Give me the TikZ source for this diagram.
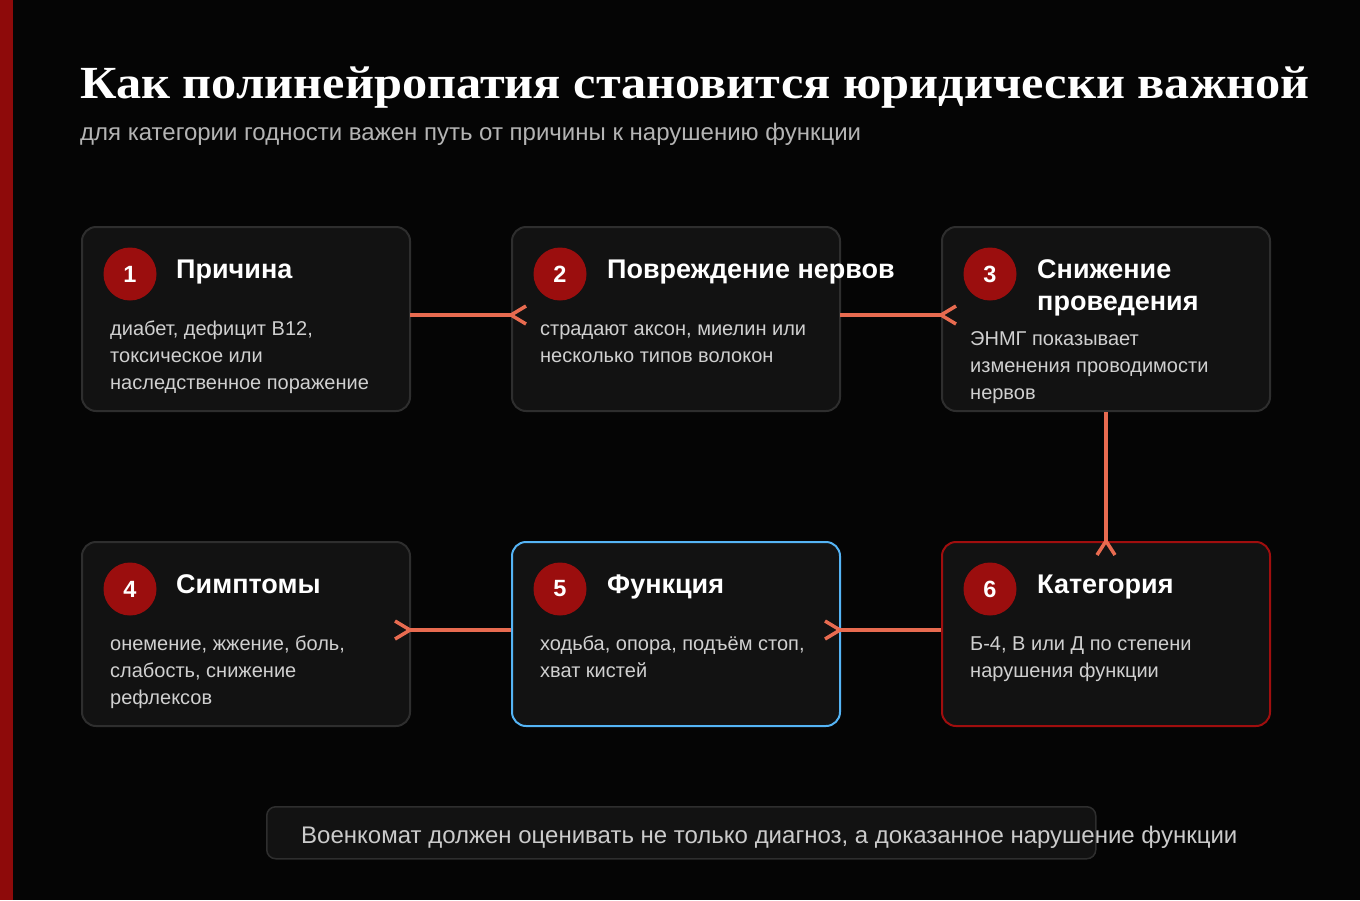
\documentclass[tikz,border=0pt]{standalone}
\usepackage{fontspec}
\setmainfont{Liberation Sans}
\newfontfamily\titlefont{Liberation Serif}
\usetikzlibrary{calc}
\definecolor{bg}{HTML}{050505}
\definecolor{stripe}{HTML}{8E0A0A}
\definecolor{boxfill}{HTML}{121212}
\definecolor{boxline}{HTML}{2E2E2E}
\definecolor{circ}{HTML}{9B0E0E}
\definecolor{conncol}{HTML}{E86B50}
\definecolor{bluel}{HTML}{55B4F5}
\definecolor{redl}{HTML}{A00E0E}
\definecolor{bodytxt}{HTML}{D0D0D0}
\definecolor{subtxt}{HTML}{B4B4B4}
\tikzset{
  box/.style={draw=boxline, line width=2pt, fill=boxfill, rounded corners=14pt,
    minimum width=328pt, minimum height=184pt, anchor=north west, inner sep=0pt},
  num/.style={circle, fill=circ, minimum size=53pt, inner sep=0pt, text=white,
    font=\bfseries\fontsize{23.5}{24}\selectfont},
  head/.style={anchor=base west, text=white, inner sep=0pt, align=left,
    font=\bfseries\fontsize{27}{32}\selectfont},
  body/.style={anchor=base west, text=bodytxt, inner sep=0pt, align=left,
    font=\fontsize{20}{27}\selectfont},
  conn/.style={draw=conncol, line width=4pt},
  tip/.style={draw=conncol, line width=3.5pt},
}
\begin{document}
\begin{tikzpicture}[x=1pt,y=-1pt]
\useasboundingbox (0,0) rectangle (1360,900);
\fill[bg] (0,0) rectangle (1360,900);
\fill[stripe] (0,0) rectangle (13,900);

\node[anchor=base west, inner sep=0pt, text=white, font=\titlefont\bfseries\fontsize{46}{46}\selectfont] (title) at (80,98) {\scalebox{1.095}[1]{Как полинейропатия становится юридически важной}};
\node[anchor=base west, inner sep=0pt, text=subtxt, font=\fontsize{24}{28}\selectfont] (subtitle) at (80,140) {для категории годности важен путь от причины к нарушению функции};

% boxes
\node[box] (b1) at (81,226) {};
\node[box] (b2) at (511,226) {};
\node[box] (b3) at (941,226) {};
\node[box] (b4) at (81,541) {};
\node[box, draw=bluel] (b5) at (511,541) {};
\node[box, draw=redl] (b6) at (941,541) {};

% connectors
\coordinate (r1a) at (410,315);
\coordinate (r1b) at (511,315);
\coordinate (r1c) at (840,315);
\coordinate (r1d) at (941,315);
\coordinate (r2a) at (410,630);
\coordinate (r2b) at (511,630);
\coordinate (r2c) at (840,630);
\coordinate (r2d) at (941,630);
\draw[conn] (r1a) -- (r1b);
\draw[conn] (r1c) -- (r1d);
\draw[conn] (r2a) -- (r2b);
\draw[conn] (r2c) -- (r2d);
\draw[conn] (b3.south) -- (b6.north);
\draw[tip] ($(r1b)+(15,-9)$) -- (r1b) -- ($(r1b)+(15,9)$);
\draw[tip] ($(r1d)+(15,-9)$) -- (r1d) -- ($(r1d)+(15,9)$);
\draw[tip] ($(r2a)+(-15,-9)$) -- (r2a) -- ($(r2a)+(-15,9)$);
\draw[tip] ($(r2c)+(-15,-9)$) -- (r2c) -- ($(r2c)+(-15,9)$);
\draw[tip] ($(b6.north)+(-9,14)$) -- (b6.north) -- ($(b6.north)+(9,14)$);

% numbers
\node[num] (n1) at (130,274) {1};
\node[num] (n2) at (560,274) {2};
\node[num] (n3) at (990,274) {3};
\node[num] (n4) at (130,589) {4};
\node[num] (n5) at (560,589) {5};
\node[num] (n6) at (990,589) {6};

% headings (anchor = baseline of last line)
\node[head] (h1) at (176,278) {Причина};
\node[head] (h2) at (607,278) {Повреждение нервов};
\node[head] (h3) at (1037,310) {Снижение\\проведения};
\node[head] (h4) at (176,593) {Симптомы};
\node[head] (h5) at (607,593) {Функция};
\node[head] (h6) at (1037,593) {Категория};

% bodies (anchor = baseline of last line)
\node[body] (t1) at (110,389) {диабет, дефицит B12,\\токсическое или\\наследственное поражение};
\node[body] (t2) at (540,362) {страдают аксон, миелин или\\несколько типов волокон};
\node[body] (t3) at (970,399) {ЭНМГ показывает\\изменения проводимости\\нервов};
\node[body] (t4) at (110,704) {онемение, жжение, боль,\\слабость, снижение\\рефлексов};
\node[body] (t5) at (540,677) {ходьба, опора, подъём стоп,\\хват кистей};
\node[body] (t6) at (970,677) {Б-4, В или Д по степени\\нарушения функции};

% bottom note
\node[draw=boxline, line width=1.5pt, fill=boxfill, rounded corners=9pt, anchor=north west,
  minimum width=829pt, minimum height=52pt, inner sep=0pt] (note) at (266,806) {};
\node[anchor=base west, inner sep=0pt, text=bodytxt!110, font=\fontsize{24}{28}\selectfont] (notetxt) at (301,843) {Военкомат должен оценивать не только диагноз, а доказанное нарушение функции};
\end{tikzpicture}
\end{document}
